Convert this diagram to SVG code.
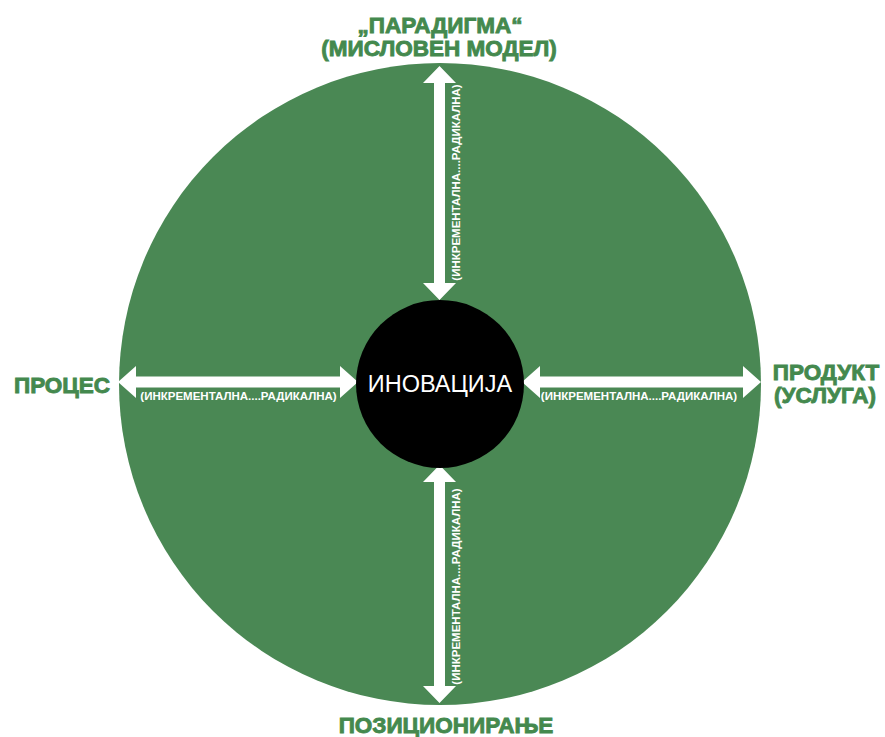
<svg xmlns="http://www.w3.org/2000/svg" width="885" height="737" viewBox="0 0 885 737">
<style>
.lbl{font-family:"Liberation Sans",Arial,sans-serif;font-weight:bold;font-size:22.5px;fill:#44894E;stroke:#44894E;stroke-width:0.9;text-anchor:middle}
.sm{font-family:"Liberation Sans",Arial,sans-serif;font-weight:bold;font-size:11.5px;fill:#fff;text-anchor:middle}
.arr{fill:#fff}
</style>
<rect width="885" height="737" fill="#fff"/>
<g id="outer"><circle cx="440" cy="384" r="321" fill="#4A8854"/></g>
<g id="connectors">
<polygon class="arr" points="118,382 136,366 136,376.5 340,376.5 340,366 358,382 340,398 340,387.5 136,387.5 136,398"/>
<polygon class="arr" points="522,382 540,366 540,376.5 743,376.5 743,366 761,382 743,398 743,387.5 540,387.5 540,398"/>
<polygon class="arr" points="439.5,66 456,83 445,83 445,283 456,283 439.5,300 423,283 434,283 434,83 423,83"/>
<polygon class="arr" points="439.5,465 456,482 445,482 445,686 456,686 439.5,703 423,686 434,686 434,482 423,482"/>
<text class="sm" x="238.5" y="400">(ИНКРЕМЕНТАЛНА....РАДИКАЛНА)</text>
<text class="sm" x="639" y="400">(ИНКРЕМЕНТАЛНА....РАДИКАЛНА)</text>
<text class="sm" transform="translate(459.5,182.5) rotate(-90)">(ИНКРЕМЕНТАЛНА....РАДИКАЛНА)</text>
<text class="sm" transform="translate(459.5,586.5) rotate(-90)">(ИНКРЕМЕНТАЛНА....РАДИКАЛНА)</text>
</g>
<g id="center"><circle cx="440" cy="384" r="84" fill="#000"/>
<text x="440" y="392" font-family="'Liberation Sans',Arial,sans-serif" font-size="23.5" fill="#fff" text-anchor="middle">ИНОВАЦИЈА</text></g>
<g id="top"><text class="lbl" x="440" y="33">„ПАРАДИГМА“</text><text class="lbl" x="439" y="56">(МИСЛОВЕН МОДЕЛ)</text></g>
<g id="left"><text class="lbl" x="62" y="393">ПРОЦЕС</text></g>
<g id="right"><text class="lbl" x="826" y="380">ПРОДУКТ</text><text class="lbl" x="825" y="403">(УСЛУГА)</text></g>
<g id="bottom"><text class="lbl" x="446" y="733">ПОЗИЦИОНИРАЊЕ</text></g>
</svg>
